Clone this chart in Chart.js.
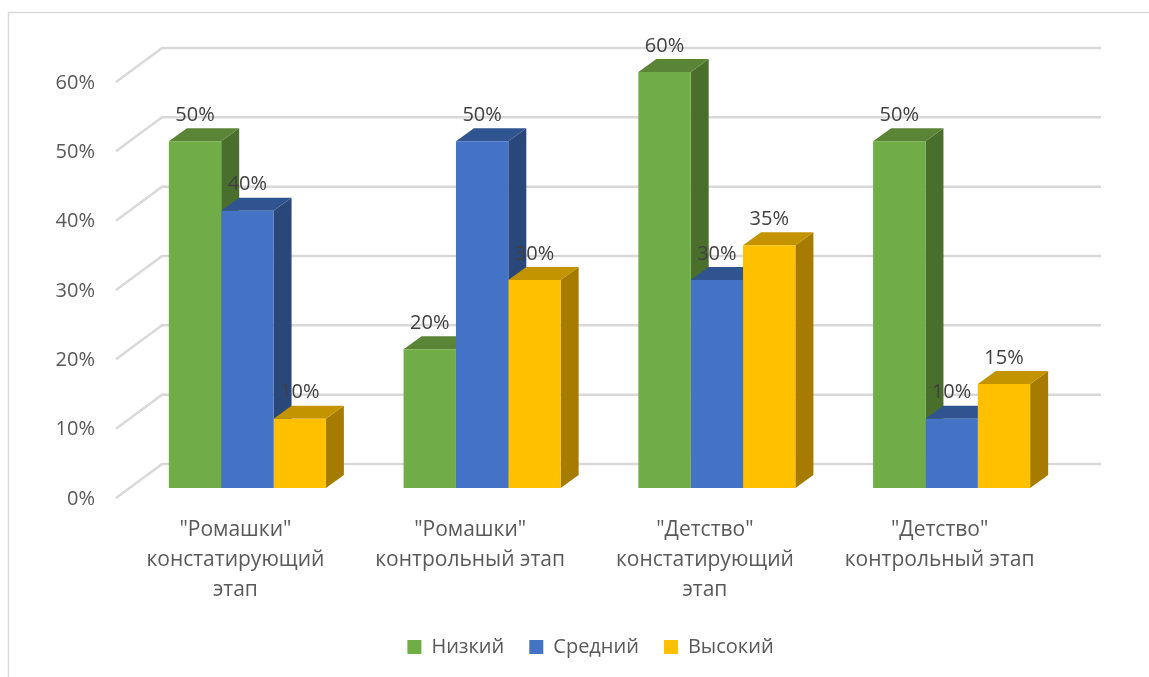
<!DOCTYPE html>
<html lang="ru">
<head>
<meta charset="utf-8">
<title>Уровни</title>
<script src="https://cdn.jsdelivr.net/npm/chart.js@4"></script>
<style>
  html, body { margin: 0; padding: 0; background: #fff; }
  canvas { display: block; }
</style>
</head>
<body>
<canvas id="chart" width="1149" height="677"></canvas>
<script>
// данные диаграммы
var categories = [
    ['"Ромашки"', 'констатирующий', 'этап'],
    ['"Ромашки"', 'контрольный этап'],
    ['"Детство"', 'констатирующий', 'этап'],
    ['"Детство"', 'контрольный этап']
];
var nizkiy = [50, 20, 60, 50];
var sredniy = [40, 50, 30, 10];
var vysokiy = [10, 30, 35, 15];
var yTicks = [0, 10, 20, 30, 40, 50, 60];

// псевдо-3D: смещение граней столбика и задней стенки
var barDx = 18, barDy = 13;
var wallDx = 46, wallDy = 24, tickDrop = 10;
var fontName = '"Open Sans", sans-serif';

function poly(ctx, pts, color) {
    ctx.fillStyle = color;
    ctx.beginPath();
    ctx.moveTo(pts[0][0], pts[0][1]);
    for (var i = 1; i < pts.length; i++) ctx.lineTo(pts[i][0], pts[i][1]);
    ctx.closePath();
    ctx.fill();
}

var frame3d = {
    id: 'frame3d',
    afterLayout: function (chart) {
        // легенда в оригинале смещена вправо от центра
        chart.legend.left += 56;
        chart.legend.right += 56;
    },
    beforeDraw: function (chart) {
        // рамка области диаграммы
        var ctx = chart.ctx;
        ctx.save();
        ctx.strokeStyle = '#d9d9d9';
        ctx.lineWidth = 1.5;
        ctx.beginPath();
        ctx.moveTo(8.5, 677);
        ctx.lineTo(8.5, 12.5);
        ctx.lineTo(1149, 12.5);
        ctx.stroke();
        ctx.restore();
    },
    beforeDatasetsDraw: function (chart) {
        // линии сетки на задней стенке и на левой грани
        var ctx = chart.ctx, y = chart.scales.y;
        var left = chart.chartArea.left - 14, gridRight = 1101;
        ctx.save();
        ctx.strokeStyle = '#d9d9d9';
        ctx.lineWidth = 2.5;
        yTicks.forEach(function (v) {
            var py = y.getPixelForValue(v);
            ctx.beginPath();
            ctx.moveTo(left, py + tickDrop);
            ctx.lineTo(left + wallDx, py - wallDy);
            ctx.lineTo(gridRight, py - wallDy);
            ctx.stroke();
        });
        // боковая и верхняя грань столбиков, лицевые стороны лягут сверху
        chart.data.datasets.forEach(function (ds, i) {
            chart.getDatasetMeta(i).data.forEach(function (bar) {
                var l = bar.x - bar.width / 2, r = bar.x + bar.width / 2;
                poly(ctx, [[r, bar.y], [r + barDx, bar.y - barDy], [r + barDx, bar.base - barDy], [r, bar.base]], ds.sideColor);
                poly(ctx, [[l, bar.y], [l + barDx, bar.y - barDy], [r + barDx, bar.y - barDy], [r, bar.y]], ds.topColor);
            });
        });
        ctx.restore();
    },
    afterDatasetsDraw: function (chart) {
        // подписи значений поверх всех столбиков
        var ctx = chart.ctx;
        ctx.save();
        ctx.font = '20px ' + fontName;
        ctx.fillStyle = '#404040';
        ctx.textAlign = 'center';
        ctx.textBaseline = 'middle';
        chart.data.datasets.forEach(function (ds, i) {
            chart.getDatasetMeta(i).data.forEach(function (bar, j) {
                ctx.fillText(ds.data[j] + '%', bar.x, bar.y - 26);
            });
        });
        ctx.restore();
    }
};

new Chart(document.getElementById('chart').getContext('2d'), {
    type: 'bar',
    plugins: [frame3d],
    data: {
        labels: categories,
        datasets: [
            { label: 'Низкий', data: nizkiy, backgroundColor: '#70AD47', sideColor: '#4A6F2C', topColor: '#5A8536' },
            { label: 'Средний', data: sredniy, backgroundColor: '#4472C4', sideColor: '#2A4779', topColor: '#30548F' },
            { label: 'Высокий', data: vysokiy, backgroundColor: '#FFC000', sideColor: '#A67C00', topColor: '#C49300' }
        ]
    },
    options: {
        responsive: false,
        animation: false,
        layout: { padding: { left: 0, right: 80, top: 72, bottom: 10 } },
        datasets: { bar: { categoryPercentage: 0.669, barPercentage: 1 } },
        scales: {
            x: {
                grid: { display: false },
                border: { display: false },
                afterFit: function (s) { s.height = 124; },
                ticks: {
                    autoSkip: false,
                    maxRotation: 0,
                    padding: 19,
                    labelOffset: -12,
                    color: '#595959',
                    font: { family: fontName, size: 21, lineHeight: 1.43 }
                }
            },
            y: {
                min: 0,
                max: 60,
                grid: { display: false },
                border: { display: false },
                afterFit: function (s) { s.width = 130; },
                ticks: {
                    stepSize: 10,
                    padding: 27,
                    labelOffset: 11,
                    color: '#595959',
                    font: { family: fontName, size: 20 },
                    callback: function (v) { return v + '%'; }
                }
            }
        },
        plugins: {
            legend: {
                position: 'bottom',
                labels: {
                    boxWidth: 14,
                    boxHeight: 14,
                    padding: 25,
                    color: '#595959',
                    font: { family: fontName, size: 20 }
                }
            },
            tooltip: { enabled: false }
        }
    }
});
</script>
</body>
</html>
